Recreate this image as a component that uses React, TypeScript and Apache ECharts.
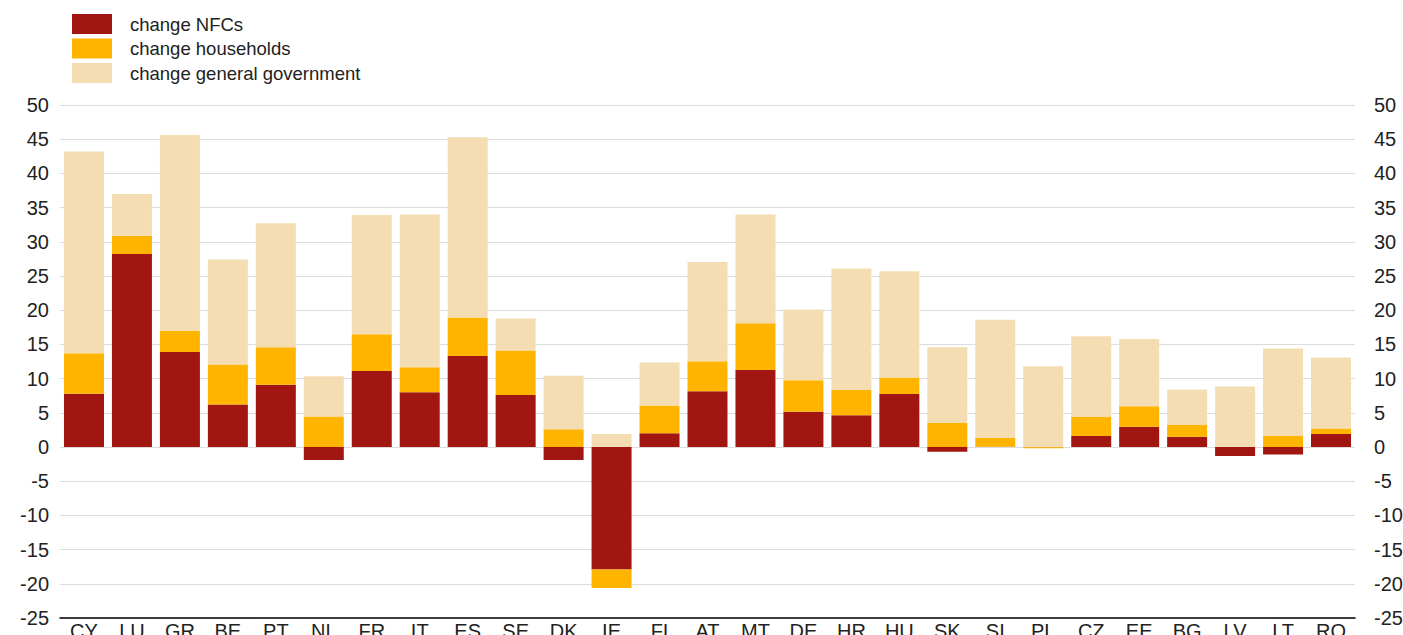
import React, { useEffect, useRef } from "react";
import * as echarts from "echarts";

const categories = ["CY","LU","GR","BE","PT","NL","FR","IT","ES","SE","DK","IE","FI","AT","MT","DE","HR","HU","SK","SI","PL","CZ","EE","BG","LV","LT","RO"];
const nfcs = [7.8,28.2,13.9,6.2,9.1,-1.9,11.1,8.0,13.3,7.6,-1.9,-17.9,2.0,8.15,11.25,5.15,4.65,7.75,-0.7,0.05,-0.05,1.6,2.95,1.5,-1.3,-1.1,1.9];
const households = [5.9,2.7,3.1,5.85,5.5,4.45,5.4,3.65,5.65,6.5,2.6,-2.7,4.05,4.4,6.85,4.6,3.7,2.4,3.5,1.25,-0.15,2.8,3.0,1.7,0.05,1.6,0.8];
const government = [29.5,6.1,28.6,15.35,18.1,5.9,17.4,22.35,26.35,4.7,7.8,1.9,6.3,14.5,15.9,10.35,17.75,15.55,11.1,17.3,11.8,11.8,9.85,5.2,8.8,12.8,10.4];
const seriesNames = ["change NFCs","change households","change general government"];
const colors = ["#A11610","#FFB400","#F4DDB2"];

const FONT = "Liberation Sans, Arial, sans-serif";

export default function App() {
  const ref = useRef<HTMLDivElement>(null);
  useEffect(() => {
    if (!ref.current) return;
    const chart = echarts.init(ref.current, undefined, { renderer: "svg" });
    const data = [nfcs, households, government];
    const yAxisBase = {
      type: "value",
      min: -25,
      max: 50,
      interval: 5,
      axisLine: { show: false },
      axisTick: { show: false },
    };
    chart.setOption({
      animation: false,
      textStyle: { fontFamily: FONT },
      legend: {
        orient: "vertical",
        left: 72,
        top: 14,
        padding: 0,
        itemWidth: 40,
        itemHeight: 20,
        itemGap: 4.5,
        icon: "rect",
        textStyle: { fontSize: 18.5, color: "#222", fontFamily: FONT, padding: [0, 0, 0, 13] },
        data: seriesNames,
      },
      grid: { left: 60, right: 48, top: 105, bottom: 17, containLabel: false, outerBoundsMode: "none" },
      xAxis: {
        type: "category",
        data: categories,
        axisLine: { onZero: false, lineStyle: { color: "#000", width: 1.5 } },
        axisTick: { inside: true, alignWithLabel: true, length: 5, lineStyle: { color: "#000" } },
        axisLabel: { fontSize: 20, color: "#222", margin: 3, fontFamily: FONT, interval: 0 },
        splitLine: { show: false },
      },
      yAxis: [
        {
          ...yAxisBase,
          position: "left",
          axisLabel: { fontSize: 20, color: "#222", margin: 11, fontFamily: FONT },
          splitLine: { show: true, lineStyle: { color: "#dcdcdc", width: 1.2 } },
        },
        {
          ...yAxisBase,
          position: "right",
          axisLabel: { fontSize: 20, color: "#222", margin: 19, fontFamily: FONT },
          splitLine: { show: false },
        },
      ],
      series: seriesNames.map((name, i) => ({
        name,
        type: "bar",
        stack: "total",
        barWidth: 40,
        itemStyle: { color: colors[i] },
        data: data[i],
      })),
    });
    return () => chart.dispose();
  }, []);
  return (
    <div
      ref={ref}
      style={{ position: "absolute", left: 0, top: 0, width: 1403, height: 635, background: "#fff" }}
    />
  );
}
